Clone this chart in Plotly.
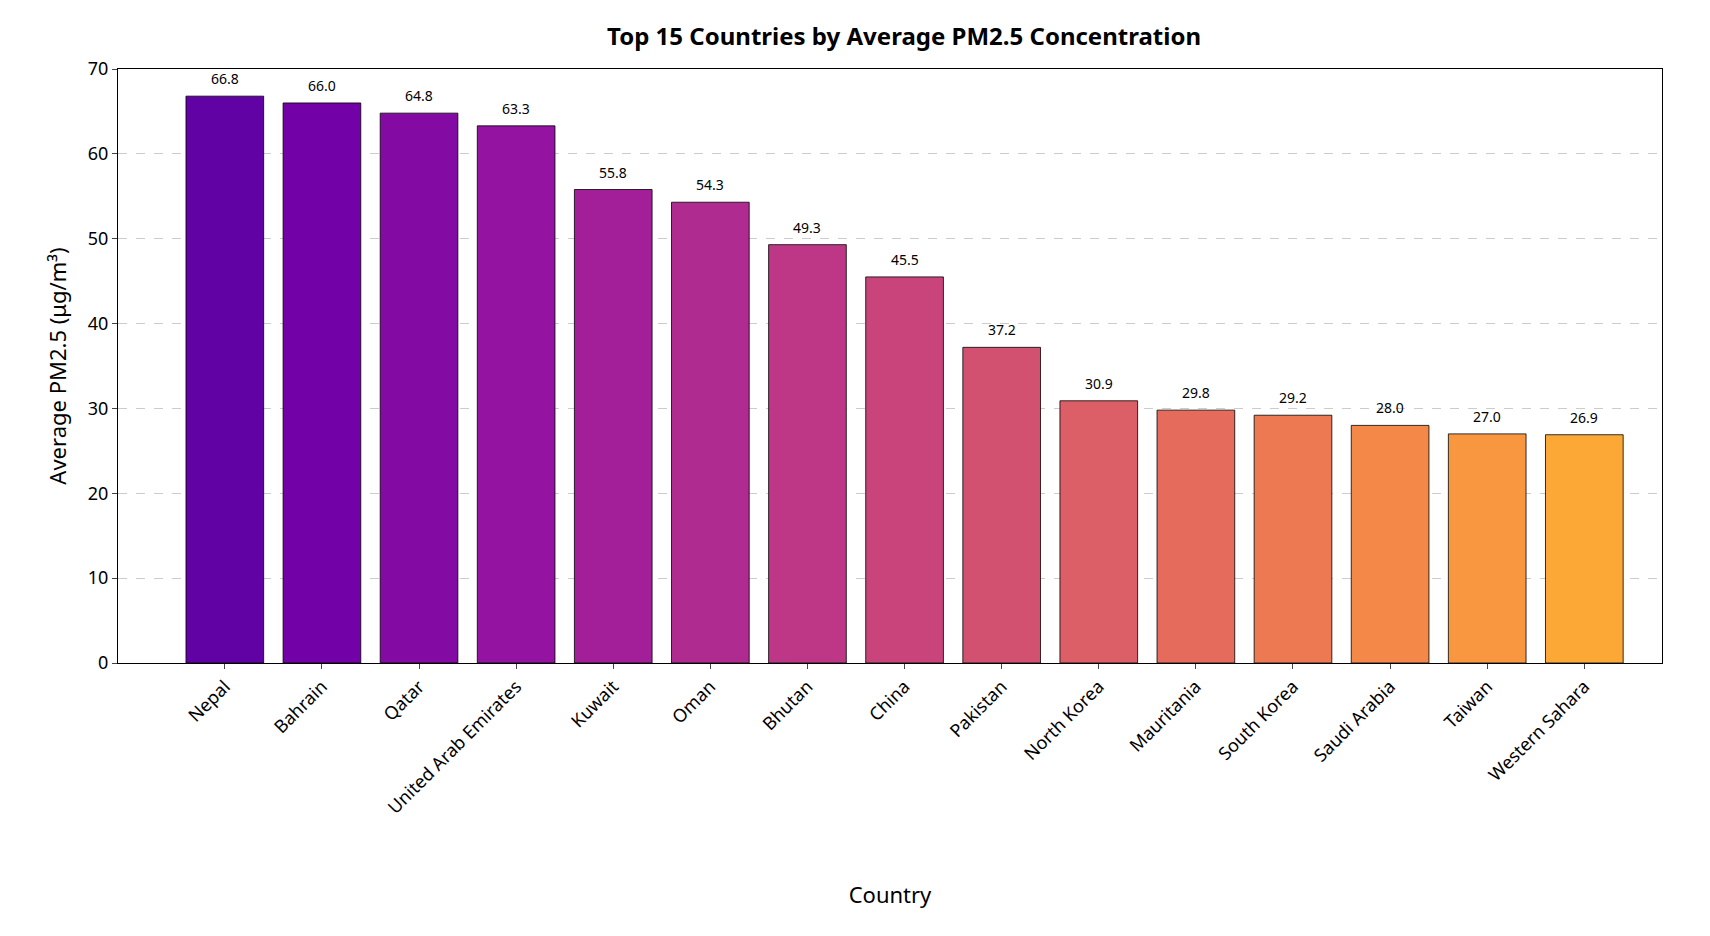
import plotly.graph_objects as go
from plotly.colors import sample_colorscale
import plotly.express as px

countries = ['Nepal', 'Bahrain', 'Qatar', 'United Arab Emirates', 'Kuwait', 'Oman', 'Bhutan',
             'China', 'Pakistan', 'North Korea', 'Mauritania', 'South Korea', 'Saudi Arabia',
             'Taiwan', 'Western Sahara']
pm25 = [66.8, 66.0, 64.8, 63.3, 55.8, 54.3, 49.3, 45.5, 37.2, 30.9, 29.8, 29.2, 28.0, 27.0, 26.9]

n = len(countries)
colors = sample_colorscale(px.colors.sequential.Plasma, [0.18 + 0.62 * i / (n - 1) for i in range(n)])

fig = go.Figure()
fig.add_trace(go.Bar(
    x=countries, y=pm25, width=0.8,
    marker=dict(color=colors, line=dict(color='black', width=0.8)),
))
for c, v in zip(countries, pm25):
    fig.add_annotation(x=c, y=v, text=f'{v:.1f}', showarrow=False, yanchor='bottom', yshift=6,
                       font=dict(size=14, color='black'))

fig.update_layout(
    width=1710, height=936,
    paper_bgcolor='white', plot_bgcolor='white',
    font=dict(family='Noto Sans', size=18, color='black'),
    title=dict(text='<b>Top 15 Countries by Average PM2.5 Concentration</b>', x=0.524, y=0.978,
               xanchor='center', font=dict(size=24)),
    margin=dict(l=110, r=56, t=61, b=281),
    showlegend=False,
)
fig.update_xaxes(title_text='Country', title_standoff=70, tickangle=-45, showline=True,
                 linecolor='black', mirror=True, ticks='outside', ticklen=5, range=[-1.1, 14.8])
fig.update_yaxes(title_text='Average PM2.5 (μg/m³)', range=[0, 70], dtick=10, showline=True,
                 linecolor='black', mirror=True, ticks='outside', ticklen=5,
                 showgrid=True, gridcolor='#cccccc', griddash='dash', zeroline=False)

fig.write_html('out.html')
